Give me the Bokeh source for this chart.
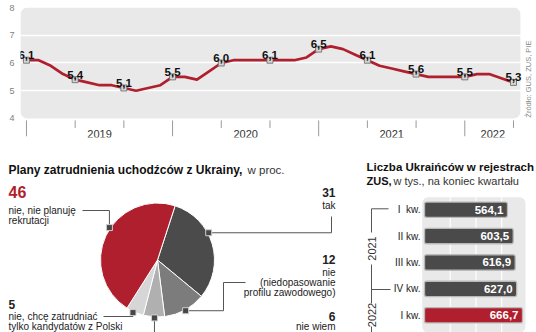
import math
from bokeh.plotting import figure
from bokeh.layouts import column, row
from bokeh.models import Range1d, FixedTicker, BoxAnnotation
from bokeh.core.properties import value
from bokeh.embed import file_html
from bokeh.resources import INLINE

FONT = "Liberation Sans"
RED = "#b01f2e"
DARK = "#222222"

# ---------------- data ----------------
# monthly registered unemployment rate, Jan 2019 - May 2022 (%)
unemployment = [6.1, 6.1, 5.9, 5.6, 5.4, 5.3, 5.2, 5.2, 5.1, 5.0, 5.1, 5.2,
                5.5, 5.5, 5.4, 5.7, 6.0, 6.1, 6.1, 6.1, 6.1, 6.1, 6.1, 6.2,
                6.5, 6.6, 6.5, 6.3, 6.1, 5.9, 5.8, 5.7, 5.6, 5.5, 5.5, 5.5,
                5.5, 5.6, 5.6, 5.45, 5.3]
years = ["2019", "2020", "2021", "2022"]
y_ticks = [4, 5, 6, 7, 8]
label_every = 4   # a value label every 4th month
source_text = "Źródło: GUS, ZUS, PIE"

plan_categories = ["tak", "nie (niedopasowanie profilu zawodowego)", "nie wiem",
                   "nie, chcę zatrudniać tylko kandydatów z Polski",
                   "nie, nie planuję rekrutacji"]
plan_values = [31, 12, 6, 5, 46]

quarters = ["I\u00a0\u00a0kw.", "II kw.", "III kw.", "IV kw.", "I kw."]
quarter_years = ["2021", "2021", "2021", "2021", "2022"]
zus_values = [564.1, 603.5, 616.9, 627.0, 666.7]


def fmt(v):
    return f"{v:.1f}".replace(".", ",")


# ---------------- line chart ----------------
n = len(unemployment)
xs = list(range(n))
x_end_panel = 40.57
p1 = figure(width=536, height=145, x_range=Range1d(-0.49, 41.89),
            y_range=Range1d(3.315, 8), output_backend="svg",
            toolbar_location=None, x_axis_location=None,
            min_border_left=20, min_border_right=0, min_border_top=7,
            min_border_bottom=8)
p1.outline_line_color = None
p1.background_fill_color = "white"
p1.yaxis.ticker = FixedTicker(ticks=y_ticks)
p1.yaxis.major_tick_out = 0
p1.yaxis.major_tick_in = 0
p1.yaxis.minor_tick_out = 0
p1.yaxis.minor_tick_in = 0
p1.yaxis.axis_line_color = None
p1.yaxis.major_label_standoff = 6
p1.yaxis.major_label_text_font = FONT
p1.yaxis.major_label_text_font_size = "9px"
p1.yaxis.major_label_text_color = "#808080"
p1.xgrid.visible = False
p1.ygrid.ticker = FixedTicker(ticks=[t for t in y_ticks if y_ticks[0] < t < y_ticks[-1]])
p1.ygrid.grid_line_color = "white"
p1.ygrid.grid_line_width = 1.3

panel = BoxAnnotation(bottom=y_ticks[0], top=y_ticks[-1], right=x_end_panel,
                      fill_color="#e9e9e9", fill_alpha=1, line_color=None,
                      border_radius=7, level="image")
p1.add_layout(panel)

p1.line(xs, unemployment, line_color=RED, line_width=2.7, line_join="round")

lab_x = xs[::label_every]
lab_y = unemployment[::label_every]
p1.scatter(lab_x, lab_y, marker="square_dot", size=6, fill_color="#d4d4d4",
           line_color="#666666", line_width=0.8)
p1.text(lab_x, lab_y, text=[fmt(v) for v in lab_y], text_align="center",
        text_baseline="alphabetic", y_offset=-5, text_font=value(FONT),
        text_font_style="bold", text_font_size="11.5px", text_color="#111111")

# axis ticks below the panel (tall at year starts)
tall = [i for i in lab_x if i % 12 == 0]
short = [i for i in lab_x if i % 12 != 0]
p1.segment(x0=short, y0=[3.93] * len(short), x1=short, y1=[3.66] * len(short),
           line_color="#9a9a9a", line_width=1)
p1.segment(x0=tall, y0=[3.93] * len(tall), x1=tall, y1=[3.36] * len(tall),
           line_color="#9a9a9a", line_width=1)
year_x = [min(12 * k + 6, (12 * k + n - 1 + 0.6) / 2) for k in range(len(years))]
p1.text(year_x, [3.44] * len(years), text=years, text_align="center",
        text_baseline="middle", text_font=value(FONT), text_font_size="11px",
        text_color="#333333")

p1.text([41.2], [4.03], text=[source_text], angle=math.pi / 2, text_align="left",
        text_baseline="middle", text_font=value(FONT), text_font_size="7.5px",
        text_color="#8a8a8a")

# ---------------- pie chart (page pixel coordinates) ----------------
p2 = figure(width=362, height=187, x_range=Range1d(0, 362), y_range=Range1d(332, 145),
            output_backend="svg", toolbar_location=None, x_axis_location=None,
            y_axis_location=None, min_border=0)
p2.outline_line_color = None
p2.grid.visible = False

cx, cy, R = 157, 259.5, 57
theta0 = 18.0
starts, ends = [], []
acc = 0
for v in plan_values:
    t0 = theta0 + 3.6 * acc
    acc += v
    t1 = theta0 + 3.6 * acc
    starts.append(math.radians(90 - t0))
    ends.append(math.radians(90 - t1))
pie_colors = ["#4b4b4b", "#7c7c7c", "#b0b0b0", "#d6d6d6", RED]
p2.wedge(x=[cx] * len(plan_values), y=[cy] * len(plan_values), radius=R,
         radius_units="screen", start_angle=starts, end_angle=ends,
         direction="clock", fill_color=pie_colors, line_color="white", line_width=1)

marker_theta = [62, 151, 183, 205, 304]
mk = [(cx + (R + 1) * math.sin(math.radians(t)), cy - (R + 1) * math.cos(math.radians(t)))
      for t in marker_theta]
leaders = [
    [mk[0], (331, mk[0][1]), (331, 216)],
    [mk[1], (223, mk[1][1]), (223, 282), (245, 282)],
    [mk[2], (mk[2][0], 332)],
    [mk[3], (mk[3][0], 316), (103, 316)],
    [mk[4], (mk[4][0], 210), (82, 210)],
]
p2.multi_line([[q[0] for q in L] for L in leaders], [[q[1] for q in L] for L in leaders],
              line_color="#555555", line_width=1)
p2.scatter([m[0] for m in mk], [m[1] for m in mk], marker="square", size=6,
           fill_color="#474747", line_color="#cfcfcf", line_width=1)

p2.text([8], [169], text=["Plany zatrudnienia uchodźców z Ukrainy,"], text_align="left",
        text_baseline="middle", text_font=value(FONT), text_font_style="bold",
        text_font_size="12px", text_color="#111111")
p2.text([247], [169], text=["w proc."], text_align="left", text_baseline="middle",
        text_font=value(FONT), text_font_size="11.5px", text_color="#333333")

# value numbers
num_pos = [(335, 192, "right"), (335, 259, "right"), (335, 316, "right"),
           (8, 304, "left"), (8, 191, "left")]
num_sizes = ["12px", "12px", "12px", "12px", "16px"]
num_colors = [DARK, DARK, DARK, DARK, RED]
for (x, y, al), v, s, c in zip(num_pos, plan_values, num_sizes, num_colors):
    p2.text([x], [y], text=[str(v)], text_align=al, text_baseline="middle",
            text_font=value(FONT), text_font_style="bold", text_font_size=s,
            text_color=c)

desc_lines = [["tak"], ["nie", "(niedopasowanie", "profilu zawodowego)"], ["nie wiem"],
              ["nie, chcę zatrudniać", "tylko kandydatów z Polski"],
              ["nie, nie planuję", "rekrutacji"]]
desc_start = [205, 272, 326, 316, 210]
for (x, _, al), lines, y0 in zip(num_pos, desc_lines, desc_start):
    p2.text([x] * len(lines), [y0 + 9.8 * k for k in range(len(lines))], text=lines,
            text_align=al, text_baseline="middle", text_font=value(FONT),
            text_font_size="10px", text_color=DARK)

# ---------------- bar chart ----------------
p3 = figure(width=174, height=187, x_range=Range1d(362, 536), y_range=Range1d(332, 145),
            output_backend="svg", toolbar_location=None, x_axis_location=None,
            y_axis_location=None, min_border=0)
p3.outline_line_color = None
p3.grid.visible = False
p3.extra_x_ranges = {"val": Range1d(-421.8, 761.9)}
p3.extra_y_ranges = {"cat": Range1d(4.652, -2.432)}

bar_panel = BoxAnnotation(left=421.7, right=525, top=196.7, fill_color="#e9e9e9",
                          fill_alpha=1, line_color=None, border_radius=6, level="image")
p3.add_layout(bar_panel)
gv = [175, 350, 525]
p3.segment(x0=gv, x1=gv, y0=[-0.5] * 3, y1=[5] * 3, x_range_name="val",
           y_range_name="cat", line_color="white", line_width=1.2)

idx = list(range(len(zus_values)))
bar_colors = ["#4a4a4a"] * (len(zus_values) - 1) + [RED]
p3.hbar(y=idx, left=0, right=zus_values, height=0.58, x_range_name="val",
        y_range_name="cat", fill_color=bar_colors, line_color="#b8b8b8",
        line_width=1.3, border_radius=2)
p3.text(zus_values, idx, text=[fmt(v) for v in zus_values], x_offset=-4,
        x_range_name="val", y_range_name="cat", text_align="right",
        text_baseline="middle", text_font=value(FONT), text_font_style="bold",
        text_font_size="11.5px", text_color="white")
p3.text([0] * len(idx), idx, text=quarters, x_offset=-4, x_range_name="val",
        y_range_name="cat", text_align="right", text_baseline="middle",
        text_font=value(FONT), text_font_size="10px", text_color=DARK)

# year brackets
p3.multi_line([[371, 388], [371, 371], [371, 371], [371, 390], [371, 371]],
              [[208.3, 208.3], [208.3, 232], [264, 303], [289, 289], [326, 332]],
              line_color="#555555", line_width=1)
p3.text([371, 371], [248, 314.5], text=[quarter_years[0], quarter_years[-1]],
        angle=math.pi / 2, text_align="center", text_baseline="middle",
        text_font=value(FONT), text_font_size="11px", text_color="#333333")

p3.text([366], [166], text=["Liczba Ukraińców w rejestrach"], text_align="left",
        text_baseline="middle", text_font=value(FONT), text_font_style="bold",
        text_font_size="11.5px", text_color="#111111")
p3.text([366], [180], text=["ZUS,"], text_align="left", text_baseline="middle",
        text_font=value(FONT), text_font_style="bold", text_font_size="11px",
        text_color="#111111")
p3.text([393], [180], text=["w tys., na koniec kwartału"], text_align="left",
        text_baseline="middle", text_font=value(FONT), text_font_size="11px",
        text_color="#333333")

layout = column(p1, row(p2, p3))
open("out.html", "w").write(file_html(layout, INLINE))
